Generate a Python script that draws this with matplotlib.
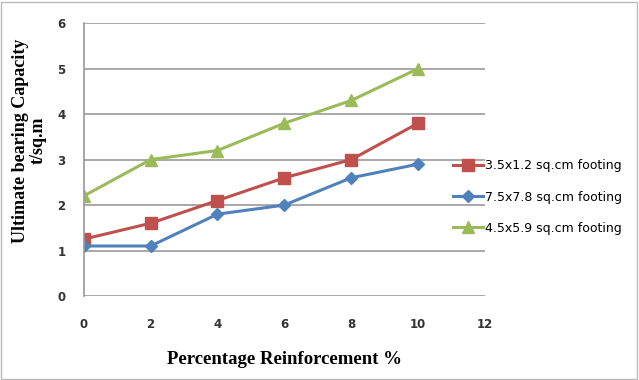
import matplotlib
matplotlib.use('Agg')
import matplotlib.pyplot as plt
from matplotlib.patches import Rectangle

reinforcement = [0, 2, 4, 6, 8, 10]
footing_35 = [1.25, 1.6, 2.1, 2.6, 3.0, 3.8]
footing_75 = [1.1, 1.1, 1.8, 2.0, 2.6, 2.9]
footing_45 = [2.2, 3.0, 3.2, 3.8, 4.3, 5.0]
labels = ['3.5x1.2 sq.cm footing', '7.5x7.8 sq.cm footing', '4.5x5.9 sq.cm footing']

fig = plt.figure(figsize=(6.39, 3.8), dpi=100)
ax = fig.add_axes([0.131, 0.221, 0.628, 0.718])

ax.plot(reinforcement, footing_35, color='#C0504D', lw=2.2, marker='s', ms=8, label=labels[0])
ax.plot(reinforcement, footing_75, color='#4F81BD', lw=2.2, marker='D', ms=6, label=labels[1])
ax.plot(reinforcement, footing_45, color='#9BBB59', lw=2.2, marker='^', ms=9, label=labels[2])

ax.set_xlim(0, 12)
ax.set_ylim(0, 6)
ax.set_xticks(range(0, 13, 2))
ax.set_yticks(range(0, 7))
ax.grid(axis='y', color='#999999', lw=1.2)
ax.set_axisbelow(True)
for side in ['top', 'right', 'bottom']:
    ax.spines[side].set_visible(False)
ax.spines['left'].set_color('#999999')
ax.spines['left'].set_linewidth(1.2)
ax.tick_params(length=0, labelsize=8.5)
ax.tick_params(axis='x', pad=16)
ax.tick_params(axis='y', pad=13)
for t in ax.get_xticklabels() + ax.get_yticklabels():
    t.set_fontweight('bold')
    t.set_color('#333333')

ax.set_xlabel('Percentage Reinforcement %', family='Liberation Serif',
              fontweight='bold', fontsize=13.5, labelpad=14)
ylab = ax.set_ylabel('Ultimate bearing Capacity\nt/sq.m', family='Liberation Serif',
                     fontweight='bold', fontsize=13, linespacing=1.05)
ylab.set_va('center')
ax.yaxis.set_label_coords(-0.135, 0.57)

fig.legend(loc='upper left', bbox_to_anchor=(0.692, 0.61), frameon=False,
           fontsize=9, handlelength=2.4, labelspacing=1.45, handletextpad=0.15)

fig.patches.append(Rectangle((0.002, 0.003), 0.995, 0.993, transform=fig.transFigure,
                             fill=False, edgecolor='#bbbbbb', lw=1))

fig.savefig('out.png', dpi=100)
